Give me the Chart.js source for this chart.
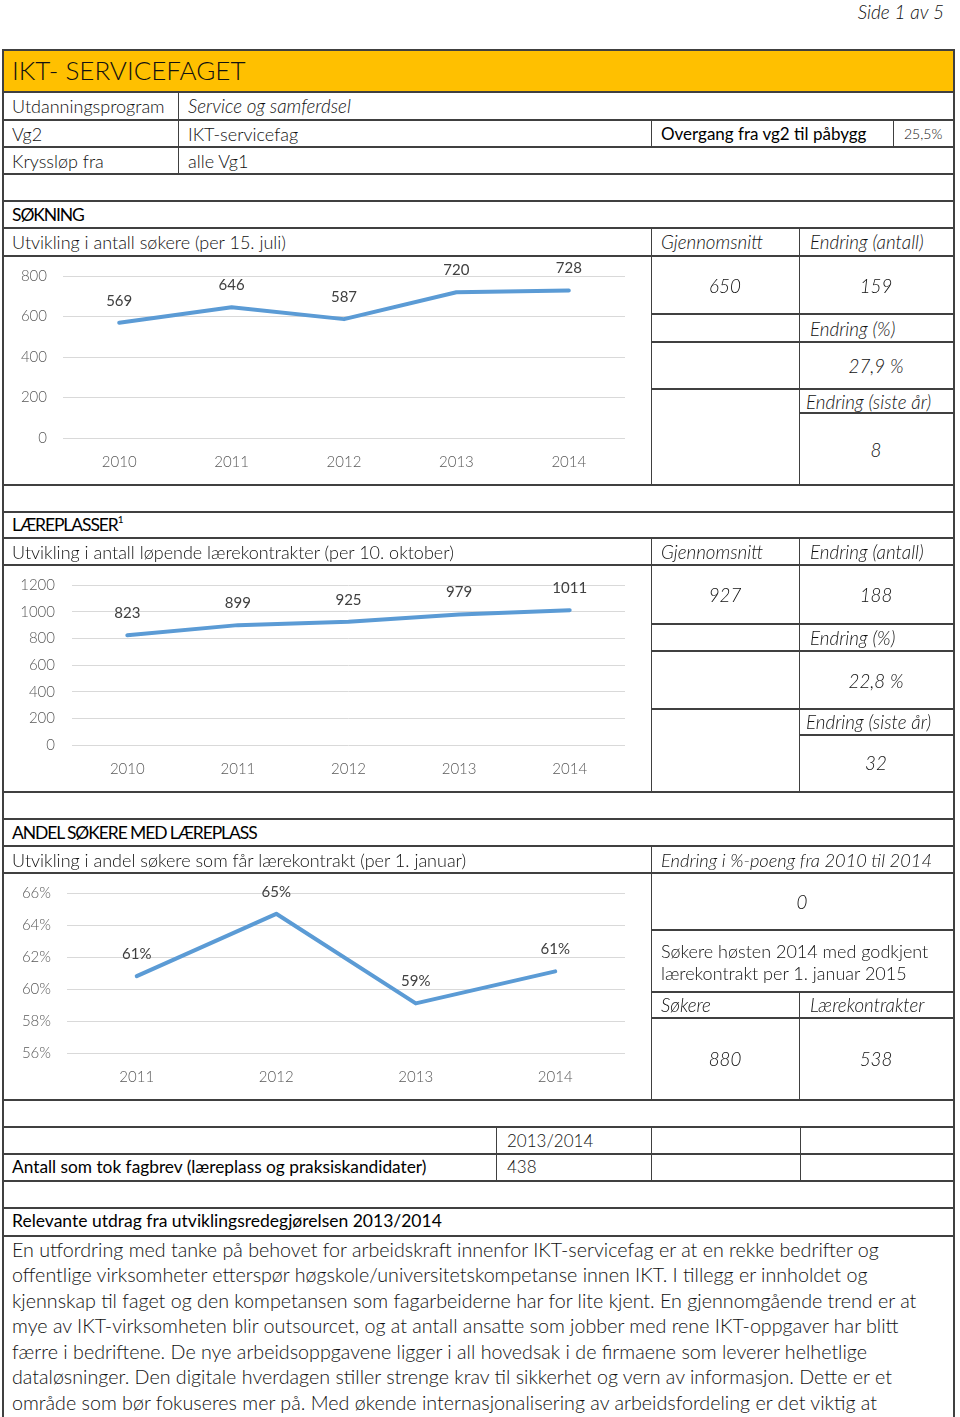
<!DOCTYPE html>
<html lang="no">
<head>
<meta charset="utf-8">
<title>IKT- SERVICEFAGET</title>
<script src="https://cdn.jsdelivr.net/npm/chart.js@4.4.1/dist/chart.umd.min.js"></script>
<style>
  html, body { margin: 0; padding: 0; background: #ffffff; }
  body { width: 960px; height: 1417px; position: relative; overflow: hidden; font-family: 'Lato', 'Open Sans', sans-serif; color: #111; }
  .t { position: absolute; white-space: nowrap; font-weight: 300; font-size: 18px; line-height: 24px; height: 24px; }
  .i { font-style: italic; font-size: 18.8px; }
  .r { font-weight: 400; color: #000; }
  .k { letter-spacing: -1.1px; }
  .h { position: absolute; background: #404040; height: 2px; }
  .v { position: absolute; background: #404040; width: 1px; }
  .box { position: absolute; }
  sup { font-size: 10px; vertical-align: top; line-height: 12px; letter-spacing: 0; }
</style>
</head>
<body>
<div class="box" style="left:3px;top:50px;width:951px;height:42px;background:#FFC000;"></div>
<div class="box" id="c1w" style="left:4px;top:257px;width:646px;height:227px;"><canvas id="c1"></canvas></div>
<div class="box" id="c2w" style="left:4px;top:566px;width:646px;height:226px;"><canvas id="c2"></canvas></div>
<div class="box" id="c3w" style="left:4px;top:874px;width:646px;height:226px;"><canvas id="c3"></canvas></div>
<script>
// ---------- chart data ----------
const soknYears = ['2010', '2011', '2012', '2013', '2014'];
const soknValues = [569, 646, 587, 720, 728];
const soknTicks = [0, 200, 400, 600, 800];

const laereYears = ['2010', '2011', '2012', '2013', '2014'];
const laereValues = [823, 899, 925, 979, 1011];
const laereTicks = [0, 200, 400, 600, 800, 1000, 1200];

const andelYears = ['2011', '2012', '2013', '2014'];
const andelValues = [0.608, 0.647, 0.591, 0.611];
const andelTicks = [0.56, 0.58, 0.60, 0.62, 0.64, 0.66];

// ---------- table figures ----------
const soknStats = ['650', '159', '27,9 %', '8'];
const laereStats = ['927', '188', '22,8 %', '32'];
const andelStats = ['0', '880', '538'];
const fagbrev = ['2013/2014', '438'];

// ---------- page layout helpers ----------
function T(x, y, s, cls, opts) {
  opts = opts || {};
  const d = document.createElement('div');
  d.className = 't ' + (cls || '');
  if (opts.html) d.innerHTML = s; else d.textContent = s;
  const lh = opts.lh || 24;
  d.style.lineHeight = lh + 'px';
  d.style.height = lh + 'px';
  d.style.top = (y - lh / 2) + 'px';
  if (opts.size) d.style.fontSize = opts.size + 'px';
  if (opts.center) { d.style.left = (x - 150) + 'px'; d.style.width = '300px'; d.style.textAlign = 'center'; }
  else if (opts.right) { d.style.right = (960 - x) + 'px'; d.style.textAlign = 'right'; }
  else d.style.left = x + 'px';
  document.body.appendChild(d);
}
function H(x1, x2, y) {
  const d = document.createElement('div'); d.className = 'h';
  d.style.left = x1 + 'px'; d.style.width = (x2 - x1) + 'px'; d.style.top = (y - 1) + 'px';
  document.body.appendChild(d);
}
function V(x, y1, y2, w) {
  const d = document.createElement('div'); d.className = 'v';
  d.style.left = x + 'px'; d.style.top = y1 + 'px'; d.style.height = (y2 - y1) + 'px';
  if (w) d.style.width = w + 'px';
  document.body.appendChild(d);
}

// outer border
V(2, 49, 1417, 2); V(953, 49, 1417, 2);
[50, 92, 120, 147, 174, 201, 228, 256, 485, 512, 538, 565, 792, 819, 846, 873, 1100, 1127, 1154, 1181, 1208, 1236]
  .forEach(y => H(3, 955, y));
// header rows
V(178, 92, 174); V(651, 120, 147); V(893, 120, 147);
// section 1 right side
V(651, 228, 485); V(799, 228, 485);
H(651, 955, 314); H(651, 955, 342); H(651, 955, 389); H(799, 955, 413);
// section 2 right side
V(651, 538, 792); V(799, 538, 792);
H(651, 955, 624); H(651, 955, 651); H(651, 955, 709); H(799, 955, 735);
// section 3 right side
V(651, 846, 1100); V(799, 992, 1100);
H(651, 955, 930); H(651, 955, 992); H(651, 955, 1018);
// section 4
V(496, 1127, 1181); V(651, 1127, 1181); V(800, 1127, 1181);

// texts
T(944, 12, 'Side 1 av 5', 'i', { right: true, size: 19 });
T(12, 70, 'IKT- SERVICEFAGET', '', { size: 26, lh: 34 });
T(12, 106, 'Utdanningsprogram'); T(188, 106, 'Service og samferdsel', 'i');
T(12, 134, 'Vg2'); T(188, 134, 'IKT-servicefag');
T(661, 134, 'Overgang fra vg2 til påbygg', 'r', { size: 17 }); T(904, 134, '25,5%', '', { size: 14 });
T(12, 161, 'Kryssløp fra'); T(188, 161, 'alle Vg1');

T(12, 215, 'SØKNING', 'r k', { size: 17.5 });
T(12, 242, 'Utvikling i antall søkere (per 15. juli)');
T(661, 242, 'Gjennomsnitt', 'i'); T(810, 242, 'Endring (antall)', 'i');
T(725, 286, soknStats[0], 'i', { center: true }); T(876, 286, soknStats[1], 'i', { center: true });
T(810, 329, 'Endring (%)', 'i');
T(876, 366, soknStats[2], 'i', { center: true });
T(806, 402, 'Endring (siste år)', 'i');
T(876, 450, soknStats[3], 'i', { center: true });

T(12, 525, 'LÆREPLASSER<sup>1</sup>', 'r k', { html: true, size: 17.5 });
T(12, 552, 'Utvikling i antall løpende lærekontrakter (per 10. oktober)');
T(661, 552, 'Gjennomsnitt', 'i'); T(810, 552, 'Endring (antall)', 'i');
T(725, 595, laereStats[0], 'i', { center: true }); T(876, 595, laereStats[1], 'i', { center: true });
T(810, 638, 'Endring (%)', 'i');
T(876, 681, laereStats[2], 'i', { center: true });
T(806, 722, 'Endring (siste år)', 'i');
T(876, 763, laereStats[3], 'i', { center: true });

T(12, 833, 'ANDEL SØKERE MED LÆREPLASS', 'r k', { size: 17.5 });
T(12, 860, 'Utvikling i andel søkere som får lærekontrakt (per 1. januar)');
T(661, 860, 'Endring i %-poeng fra 2010 til 2014', 'i', { size: 18.3 });
T(802, 902, andelStats[0], 'i', { center: true });
T(661, 951, 'Søkere høsten 2014 med godkjent');
T(661, 973, 'lærekontrakt per 1. januar 2015');
T(661, 1005, 'Søkere', 'i'); T(810, 1005, 'Lærekontrakter', 'i');
T(725, 1059, andelStats[1], 'i', { center: true }); T(876, 1059, andelStats[2], 'i', { center: true });

T(507, 1141, fagbrev[0], '', { size: 17 });
T(12, 1167, 'Antall som tok fagbrev (læreplass og praksiskandidater)', 'r', { size: 17.3 });
T(507, 1167, fagbrev[1], '', { size: 17 });
T(12, 1221, 'Relevante utdrag fra utviklingsredegjørelsen 2013/2014', 'r', { size: 17.5 });
const para = [
  'En utfordring med tanke på behovet for arbeidskraft innenfor IKT-servicefag er at en rekke bedrifter og',
  'offentlige virksomheter etterspør høgskole/universitetskompetanse innen IKT. I tillegg er innholdet og',
  'kjennskap til faget og den kompetansen som fagarbeiderne har for lite kjent. En gjennomgående trend er at',
  'mye av IKT-virksomheten blir outsourcet, og at antall ansatte som jobber med rene IKT-oppgaver har blitt',
  'færre i bedriftene. De nye arbeidsoppgavene ligger i all hovedsak i de firmaene som leverer helhetlige',
  'dataløsninger. Den digitale hverdagen stiller strenge krav til sikkerhet og vern av informasjon. Dette er et',
  'område som bør fokuseres mer på. Med økende internasjonalisering av arbeidsfordeling er det viktig at'
];
const paraY = [1250, 1275, 1301, 1326, 1352, 1377, 1403];
para.forEach((s, i) => T(12, paraY[i], s, '', { size: 19.7, lh: 26 }));

// ---------- charts ----------
const valueLabels = {
  id: 'valueLabels',
  afterDatasetsDraw(chart, args, opts) {
    const ctx = chart.ctx;
    const meta = chart.getDatasetMeta(0);
    ctx.save();
    ctx.font = '400 15px Lato, sans-serif';
    ctx.fillStyle = '#404040';
    ctx.textAlign = 'center';
    ctx.textBaseline = 'middle';
    meta.data.forEach((pt, i) => {
      const v = chart.data.datasets[0].data[i];
      ctx.fillText(opts.fmt(v), pt.x, pt.y - 22);
    });
    ctx.restore();
  }
};

function makeChart(id, labels, values, ticks, yWidth, yPad, xHeight, xPad, fmt) {
  return new Chart(document.getElementById(id), {
    type: 'line',
    data: {
      labels: labels,
      datasets: [{
        data: values,
        borderColor: '#5B9BD5',
        borderWidth: 4,
        borderCapStyle: 'round',
        borderJoinStyle: 'round',
        pointRadius: 0,
        tension: 0,
        fill: false
      }]
    },
    options: {
      responsive: true,
      maintainAspectRatio: false,
      animation: false,
      layout: { padding: { top: 19, right: 25, left: 0, bottom: 0 } },
      plugins: {
        legend: { display: false },
        tooltip: { enabled: false },
        valueLabels: { fmt: fmt }
      },
      scales: {
        x: {
          offset: true,
          grid: { display: false, drawTicks: false },
          border: { display: false },
          ticks: { color: '#595959', font: { family: 'Lato', size: 15, weight: '300' }, padding: xPad, maxRotation: 0 },
          afterFit: s => { s.height = xHeight; s.paddingLeft = 0; s.paddingRight = 0; }
        },
        y: {
          min: ticks[0],
          max: ticks[ticks.length - 1],
          afterBuildTicks: s => { s.ticks = ticks.map(v => ({ value: v })); },
          grid: { color: '#D9D9D9', lineWidth: 1, drawTicks: false },
          border: { display: false },
          ticks: { color: '#595959', font: { family: 'Lato', size: 15, weight: '300' }, padding: yPad, callback: v => fmt(v) },
          afterFit: s => { s.width = yWidth; s.paddingTop = 0; s.paddingBottom = 0; }
        }
      }
    },
    plugins: [valueLabels]
  });
}

const intFmt = v => String(Math.round(v));
const pctFmt = v => Math.round(v * 100) + '%';
makeChart('c1', soknYears, soknValues, soknTicks, 59, 16, 46, 15, intFmt);
makeChart('c2', laereYears, laereValues, laereTicks, 68, 17, 47, 15, intFmt);
makeChart('c3', andelYears, andelValues, andelTicks, 63, 16, 47, 15, pctFmt);
</script>
</body>
</html>
